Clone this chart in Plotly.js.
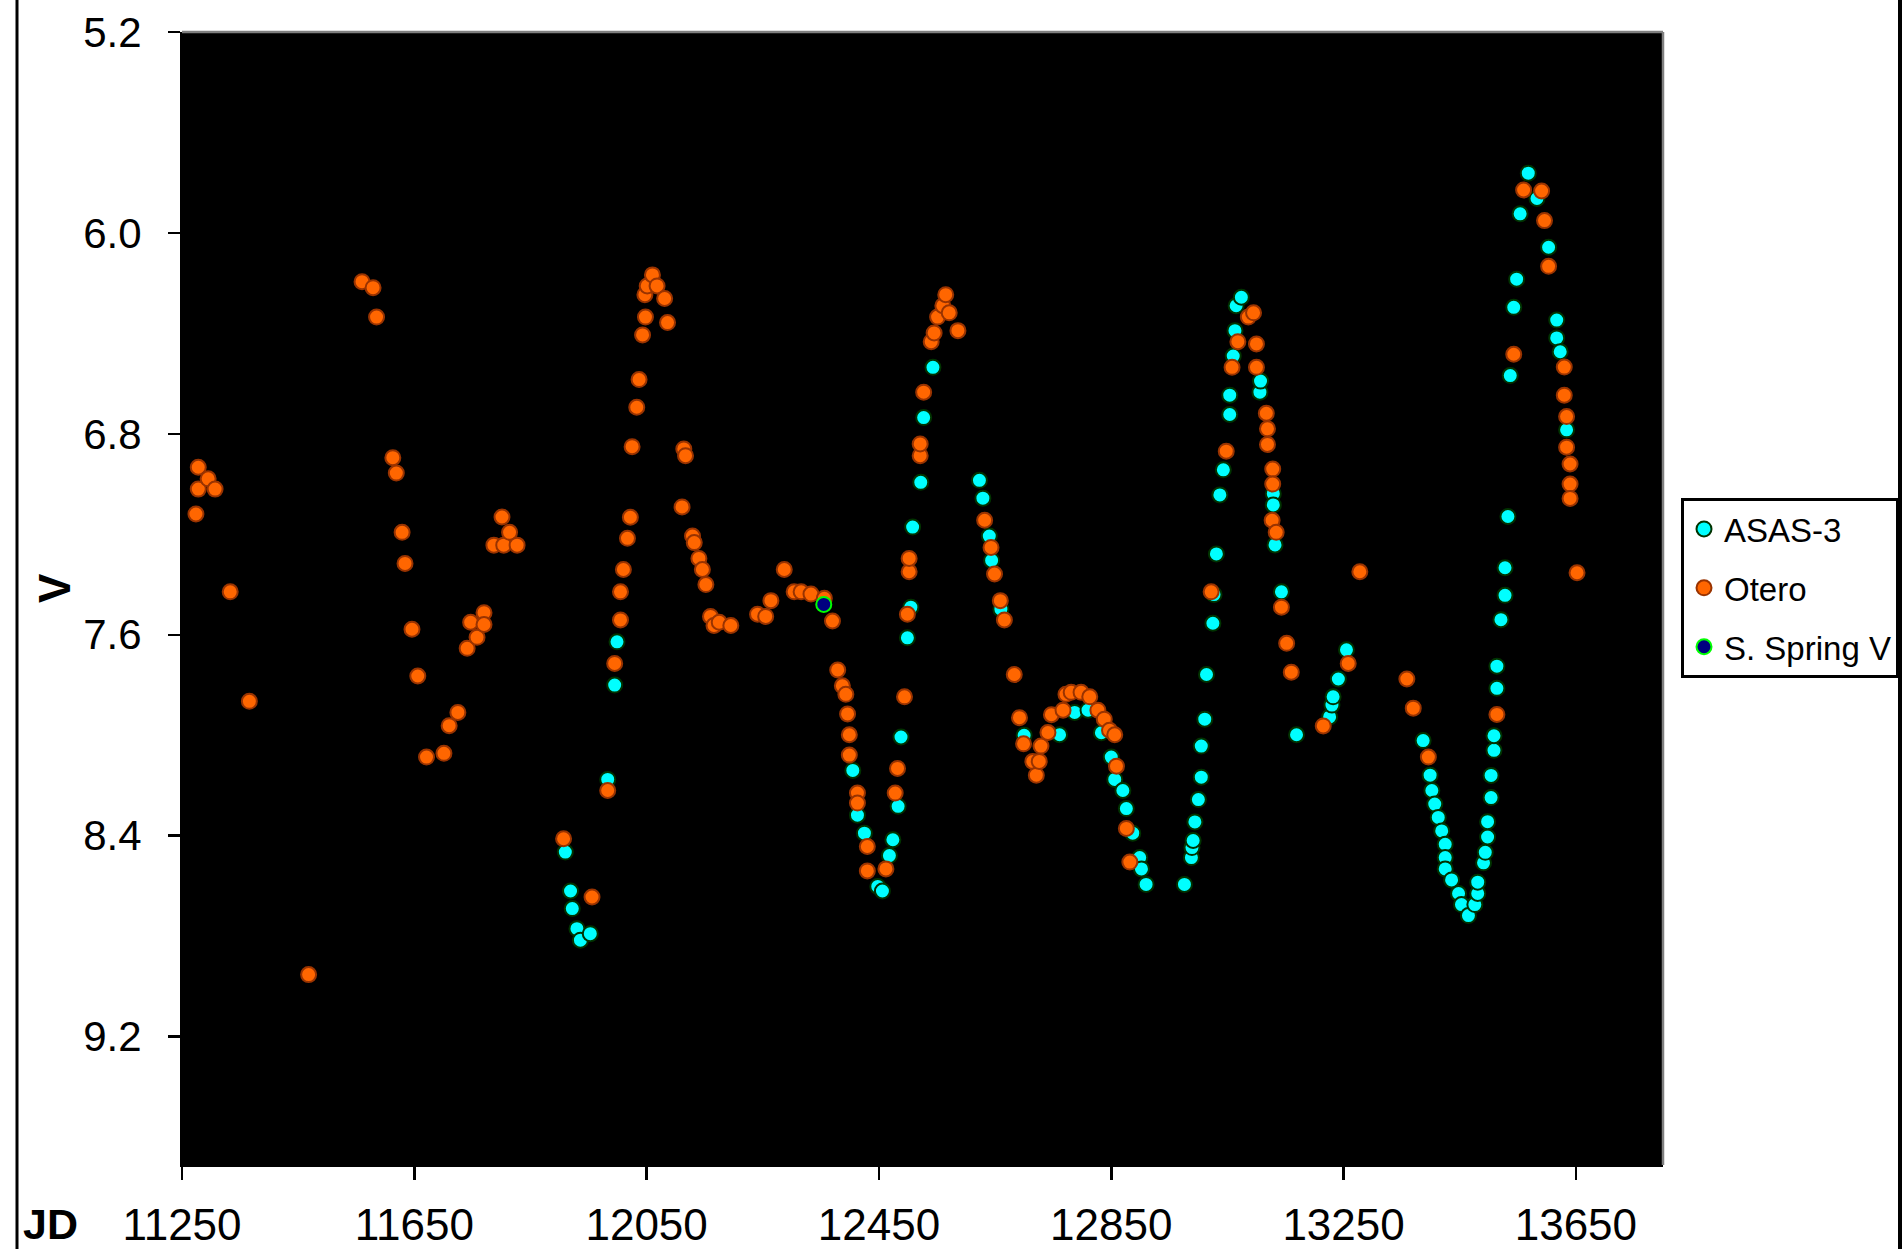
<!DOCTYPE html>
<html>
<head>
<meta charset="utf-8">
<script src="https://cdn.plot.ly/plotly-3.0.1.min.js"></script>
<style>html,body{margin:0;padding:0;background:#fff;}#chart{width:1903px;height:1249px;}</style>
</head>
<body>
<div id="chart"></div>
<script>
// ---- Data (JD - 2440000 style offsets, V magnitude) ----
const asasJD = [11910,11919,11922,11930,11936,11953,11983,11995,11999,
  12405,12413,12425,12448,12456,12468,12474,12483,12488,12499,12505,12508,12522,12527,12543,
  12623,12629,12640,12644,12660,12700,12761,12787,12810,12833,12850,12856,12870,12876,12887,12899,12902,12910,
  12976,12988,12989,12991,12994,13000,13005,13005,13011,13014,13025,13027,13031,13037,13043,13054,13054,13060,13063,13065,13074,
  13106,13107,13129,13129,13132,13143,13169,13226,13230,13232,13241,13255,
  13387,13399,13402,13407,13413,13419,13425,13425,13425,13436,13448,13453,13465,13476,13481,13481,
  13491,13494,13498,13498,13504,13504,13509,13509,13514,13514,13521,13528,13528,13533,13537,13543,13548,13554,13568,13583,13603,13617,13617,13623,13634];
const asasV = [8.465,8.620,8.690,8.770,8.816,8.790,8.176,7.800,7.628,
  8.140,8.318,8.390,8.602,8.620,8.479,8.416,8.283,8.007,7.612,7.490,7.171,6.993,6.735,6.535,
  6.985,7.056,7.207,7.304,7.498,8.000,7.998,7.909,7.900,7.990,8.087,8.176,8.220,8.292,8.390,8.487,8.532,8.594,
  8.594,8.487,8.447,8.419,8.345,8.256,8.167,8.043,7.936,7.758,7.554,7.440,7.278,7.043,6.943,6.723,6.646,6.490,6.389,6.290,6.256,
  6.634,6.590,7.038,7.083,7.242,7.429,7.998,7.927,7.880,7.847,7.776,7.660,
  8.021,8.159,8.220,8.274,8.327,8.381,8.434,8.487,8.532,8.576,8.630,8.674,8.718,8.674,8.630,8.585,
  8.508,8.466,8.405,8.344,8.248,8.160,8.060,8.002,7.813,7.725,7.540,7.333,7.443,7.129,6.568,6.296,6.184,5.924,5.762,5.863,6.057,6.347,6.418,6.473,6.784];

const oteroJD = [11274,11278,11278,11295,11307,11333,11366,11468,11560,11579,11585,
  11613,11619,11629,11634,11646,11656,11671,11701,11710,11725,11741,11747,11758,11770,11770,11787,11801,11804,11814,11827,
  11907,11956,11983,11995,12005,12005,12010,12017,12022,12025,12033,12037,12043,12048,12047,12051,12060,12068,12081,12086,
  12111,12114,12117,12129,12132,12140,12146,12152,12160,12166,12175,12195,12241,12255,12264,12287,12304,12316,12333,12356,
  12370,12379,12387,12393,12396,12399,12399,12413,12413,12430,12430,12462,12478,12482,12494,12499,12502,12502,12521,12521,
  12527,12540,12545,12551,12560,12565,12571,12586,12632,12643,12649,12659,12666,12683,12692,12699,12715,12721,12726,12729,
  12741,12747,12767,12772,12781,12798,12813,12827,12838,12847,12856,12859,12876,12882,
  13022,13048,13058,13068,13086,13095,13100,13100,13117,13119,13119,13128,13128,13127,13134,13143,13152,13160,13215,13258,13278,
  13359,13370,13396,13514,13543,13560,13591,13596,13603,13630,13630,13634,13634,13640,13640,13640,13652];
const oteroV = [7.119,6.933,7.020,6.979,7.020,7.429,7.865,8.953,6.194,6.218,6.335,
  6.895,6.956,7.192,7.316,7.578,7.764,8.087,8.072,7.962,7.909,7.654,7.550,7.610,7.512,7.559,7.243,7.131,7.243,7.192,7.243,
  8.412,8.644,8.220,7.714,7.541,7.429,7.340,7.216,7.132,6.851,6.694,6.584,6.406,6.335,6.246,6.211,6.167,6.211,6.261,6.357,
  7.091,6.860,6.887,7.207,7.233,7.296,7.340,7.400,7.527,7.563,7.550,7.563,7.518,7.527,7.464,7.340,7.429,7.429,7.438,7.455,
  7.545,7.740,7.803,7.837,7.915,7.998,8.079,8.230,8.270,8.443,8.540,8.532,8.230,8.132,7.847,7.518,7.349,7.296,6.887,6.840,
  6.634,6.433,6.398,6.335,6.290,6.246,6.318,6.389,7.144,7.252,7.358,7.464,7.541,7.758,7.930,8.034,8.104,8.159,8.104,8.043,
  7.989,7.918,7.900,7.837,7.829,7.829,7.847,7.900,7.936,7.980,7.998,8.123,8.371,8.505,
  7.429,6.869,6.535,6.433,6.335,6.318,6.442,6.535,6.718,6.780,6.842,6.940,7.000,7.144,7.192,7.490,7.634,7.749,7.963,7.714,7.349,
  7.776,7.892,8.087,7.917,6.483,5.829,5.833,5.951,6.133,6.534,6.646,6.731,6.853,6.920,7.000,7.057,7.353];

const springJD = [12355];
const springV = [7.479];

const xTickVals = [11250,11650,12050,12450,12850,13250,13650];
const yTickVals = [5.2,6.0,6.8,7.6,8.4,9.2];

// ---- Layout geometry ----
const W = 1903, H = 1249;
const M = {l:182, r:240, t:32, b:84, autoexpand:false};
const pw = W - M.l - M.r, ph = H - M.t - M.b;
const px = v => (v - M.l) / pw;          // pixel x -> paper x
const py = v => (H - M.b - v) / ph;      // pixel y -> paper y

const font = 'Liberation Sans, Arial, sans-serif';

const traces = [
  {name:'ASAS-3', x:asasJD, y:asasV, type:'scatter', mode:'markers', legendgroup:'a',
   marker:{symbol:'circle', size:15, color:'#00FFFF', line:{color:'#003300', width:2}}},
  {name:'Otero', x:oteroJD, y:oteroV, type:'scatter', mode:'markers', legendgroup:'b',
   marker:{symbol:'circle', size:15, color:'#FF6600', line:{color:'#993300', width:2}}},
  {name:'S. Spring V', x:springJD, y:springV, type:'scatter', mode:'markers', legendgroup:'c',
   marker:{symbol:'circle', size:15, color:'#000080', line:{color:'#00FF00', width:2}}}
];

const layout = {
  width:W, height:H,
  margin:M,
  paper_bgcolor:'#ffffff',
  plot_bgcolor:'#000000',
  showlegend:true,
  font:{family:font, color:'#000'},
  xaxis:{
    range:[11250,13800], tickmode:'array', tickvals:xTickVals, ticktext:xTickVals.map(String),
    showgrid:false, zeroline:false, showline:true, linecolor:'#000', linewidth:2,
    ticks:'outside', ticklen:13, tickwidth:2.5, tickcolor:'#000',
    tickfont:{family:font, size:44, color:'#000'}, ticklabelstandoff:7, automargin:false
  },
  yaxis:{
    range:[9.711,5.2], tickmode:'array', tickvals:yTickVals, ticktext:yTickVals.map(v=>v.toFixed(1)),
    showgrid:false, zeroline:false, showline:true, linecolor:'#000', linewidth:2,
    ticks:'outside', ticklen:12, tickwidth:2.5, tickcolor:'#000',
    tickfont:{family:font, size:42, color:'#000'}, ticklabelstandoff:18, automargin:false
  },
  legend:{
    x:px(1681), xanchor:'left', y:py(498), yanchor:'top',
    bgcolor:'#ffffff', bordercolor:'#000', borderwidth:3,
    font:{family:font, size:33, color:'#000'},
    traceorder:'grouped', tracegroupgap:13, itemsizing:'trace'
  },
  shapes:[
    {type:'line', xref:'paper', yref:'paper', x0:px(17), x1:px(17), y0:py(H), y1:py(0), line:{color:'#000', width:3}},
    {type:'line', xref:'paper', yref:'paper', x0:px(1900), x1:px(1900), y0:py(H), y1:py(0), line:{color:'#000', width:4}},
    {type:'line', xref:'paper', yref:'paper', x0:0, x1:1, y0:1, y1:1, line:{color:'#808080', width:2.5}},
    {type:'line', xref:'paper', yref:'paper', x0:1, x1:1, y0:0, y1:1, line:{color:'#808080', width:2.5}}
  ],
  annotations:[
    {text:'<b>JD</b>', xref:'paper', yref:'paper', x:px(50), y:py(1224), xanchor:'center', yanchor:'middle',
     showarrow:false, font:{family:font, size:43, color:'#000'}},
    {text:'<b>V</b>', xref:'paper', yref:'paper', x:px(54), y:py(588), xanchor:'center', yanchor:'middle',
     textangle:-90, showarrow:false, font:{family:font, size:44, color:'#000'}}
  ]
};

Plotly.newPlot('chart', traces, layout, {displayModeBar:false, staticPlot:true});
</script>
</body>
</html>
